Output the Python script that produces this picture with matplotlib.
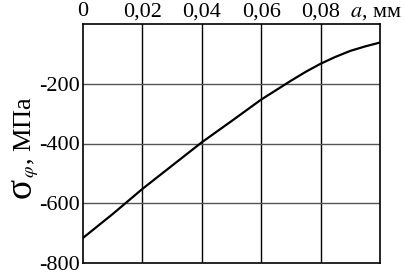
import matplotlib
matplotlib.use("Agg")
import matplotlib.pyplot as plt

# Data
a_mm = [0.0, 0.01, 0.02, 0.03, 0.04, 0.05, 0.06, 0.07, 0.075, 0.08, 0.085, 0.09, 0.095, 0.10]
sigma_phi = [-716, -636, -552, -474, -396, -325, -253, -190, -160, -133, -110, -90, -75, -62]

x_ticks = [0.0, 0.02, 0.04, 0.06, 0.08, 0.10]
x_tick_labels = ["0", "0,02", "0,04", "0,06", "0,08", ""]
x_unit_label = r"$a$, мм"
y_ticks = [-800, -600, -400, -200]
y_tick_labels = ["-800", "-600", "-400", "-200"]

plt.rcParams['font.family'] = ['Liberation Serif', 'DejaVu Serif']
plt.rcParams['mathtext.fontset'] = 'stix'

W, H = 405, 275
fig = plt.figure(figsize=(W/100, H/100), dpi=100)
ax = fig.add_axes([83/W, 1-263/H, (380-83)/W, (263-24)/H])

ax.set_xlim(0, 0.1)
ax.set_ylim(-800, 0)

for x in x_ticks[1:-1]:
    ax.axvline(x, color='black', lw=1.0, zorder=1)
for y in y_ticks[1:]:
    ax.axhline(y, color='#555555', lw=1.0, zorder=1)

ax.plot(a_mm, sigma_phi, color='black', lw=1.6, zorder=3)

ax.xaxis.tick_top()
ax.set_xticks(x_ticks)
ax.set_xticklabels(x_tick_labels, fontsize=16)
ax.set_yticks(y_ticks)
ax.set_yticklabels(y_tick_labels, fontsize=16)
ax.tick_params(axis='both', length=0, pad=2)

ax.annotate(x_unit_label, xy=(0.1, 1), xycoords=('data', 'axes fraction'),
            xytext=(-4, 2), textcoords='offset pixels', ha='center', va='bottom',
            fontsize=16, annotation_clip=False)

for s in ax.spines.values():
    s.set_color('black')
    s.set_linewidth(1.2)

# y-axis label: large upright sigma, then subscript phi and units
fig.canvas.draw()
r = fig.canvas.get_renderer()
xb = 31 / W
t1 = fig.text(xb, 1-198/H, "σ", rotation=90, rotation_mode='anchor',
              ha='left', va='baseline', fontsize=27)
bb = t1.get_window_extent(r)
t2 = fig.text(xb, bb.y1 / H, r"$_{\varphi}$, МПа", rotation=90,
              rotation_mode='anchor', ha='left', va='baseline', fontsize=19)

fig.savefig("out.png", dpi=100)
